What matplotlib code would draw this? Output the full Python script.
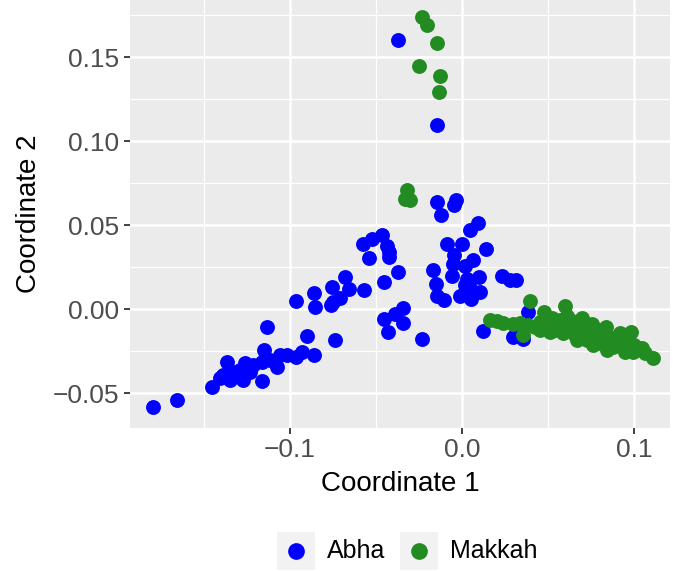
import matplotlib
matplotlib.use('Agg')
import matplotlib.pyplot as plt
from matplotlib.patches import Rectangle
from matplotlib.lines import Line2D

plt.rcParams['font.family'] = ['Liberation Sans', 'DejaVu Sans']

# groupes
labels = ['Abha', 'Makkah']
colors = ['blue', 'forestgreen']

# Abha (coordonnees)
abha_x = [-0.0370, -0.0143, -0.0147, -0.0122, -0.0035, -0.0046, 0.0095, 0.0049, -0.0085, -0.0002,
          0.0141, -0.0049, 0.0066, -0.0052, 0.0017, -0.0171, -0.0060, 0.0099, 0.0027, -0.0151,
          0.0017, 0.0046, 0.0107, -0.0143, -0.0102, -0.0012, 0.0053, 0.0230, 0.0279, 0.0313,
          0.0385, 0.0120, 0.0298, 0.0352, 0.0337, -0.0464, -0.0524, -0.0573, -0.0434, -0.0425,
          -0.0422, -0.0540, -0.0370, -0.0454, -0.0679, -0.0756, -0.0654, -0.0571, -0.0857, -0.0963,
          -0.0708, -0.0747, -0.0762, -0.0853, -0.0344, -0.0389, -0.0453, -0.0342, -0.0431, -0.0234,
          -0.0900, -0.0737, -0.1133, -0.1149, -0.1056, -0.1014, -0.0961, -0.0929, -0.0859, -0.1366,
          -0.1259, -0.1211, -0.1075, -0.1288, -0.1230, -0.1163, -0.1385, -0.1347, -0.1269, -0.1163,
          -0.1405, -0.1453, -0.1656, -0.1792, -0.1329, -0.1114]
abha_y = [0.1603, 0.1097, 0.0636, 0.0560, 0.0651, 0.0621, 0.0512, 0.0469, 0.0386, 0.0388,
          0.0361, 0.0323, 0.0296, 0.0270, 0.0256, 0.0232, 0.0198, 0.0194, 0.0180, 0.0151,
          0.0145, 0.0125, 0.0100, 0.0076, 0.0055, 0.0076, 0.0061, 0.0196, 0.0174, 0.0174,
          -0.0014, -0.0129, -0.0163, -0.0179, -0.0093, 0.0442, 0.0418, 0.0387, 0.0379, 0.0341,
          0.0313, 0.0308, 0.0224, 0.0164, 0.0194, 0.0130, 0.0120, 0.0117, 0.0097, 0.0049,
          0.0067, 0.0042, 0.0026, 0.0015, 0.0006, -0.0027, -0.0057, -0.0083, -0.0137, -0.0179,
          -0.0159, -0.0183, -0.0105, -0.0242, -0.0272, -0.0272, -0.0282, -0.0252, -0.0272, -0.0312,
          -0.0321, -0.0332, -0.0342, -0.0361, -0.0371, -0.0312, -0.0391, -0.0421, -0.0421, -0.0427,
          -0.0411, -0.0461, -0.0540, -0.0580, -0.0373, -0.0302]

# Makkah
makkah_x = [-0.0234, -0.0201, -0.0147, -0.0248, -0.0128, -0.0132, -0.0321, -0.0331, -0.0302,
            0.0395, 0.0163, 0.0238, 0.0298, 0.0356, 0.0424, 0.0476, 0.0511, 0.0598, 0.0609,
            0.0584, 0.0685, 0.0756, 0.0837, 0.0859, 0.0724, 0.0801, 0.0878, 0.0978, 0.0956,
            0.0992, 0.1062, 0.1109, 0.0666, 0.0762, 0.0840, 0.0946, 0.0492, 0.0546, 0.0453,
            0.0337, 0.0203, 0.0627, 0.0656, 0.0714, 0.0789, 0.0905, 0.0917, 0.0569, 0.0522,
            0.0453, 0.0383, 0.0696, 0.0801, 0.1044, 0.0871,
            0.0550, 0.0640, 0.0740, 0.0820, 0.0880, 0.0950, 0.1000, 0.0600, 0.0700, 0.0770]
makkah_y = [0.1738, 0.1692, 0.1583, 0.1448, 0.1389, 0.1295, 0.0710, 0.0657, 0.0651,
            0.0048, -0.0064, -0.0079, -0.0090, -0.0153, -0.0108, -0.0019, -0.0135, 0.0017, -0.0043,
            -0.0143, -0.0093, -0.0090, -0.0107, -0.0163, -0.0183, -0.0202, -0.0223, -0.0136, -0.0223,
            -0.0254, -0.0260, -0.0292, -0.0183, -0.0213, -0.0242, -0.0252, -0.0104, -0.0123, -0.0076,
            -0.0082, -0.0070, -0.0111, -0.0153, -0.0135, -0.0159, -0.0183, -0.0141, -0.0064, -0.0052,
            -0.0123, -0.0093, -0.0052, -0.0123, -0.0230, -0.0201,
            -0.0085, -0.0070, -0.0120, -0.0140, -0.0170, -0.0190, -0.0215, -0.0120, -0.0160, -0.0180]

x_ticks = [-0.1, 0.0, 0.1]
x_tick_labels = ['\u22120.1', '0.0', '0.1']
y_ticks = [-0.05, 0.0, 0.05, 0.10, 0.15]
y_tick_labels = ['\u22120.05', '0.00', '0.05', '0.10', '0.15']

W, H = 673, 571
fig = plt.figure(figsize=(W / 100, H / 100), dpi=100)
ax = fig.add_axes([130 / W, 143 / H, 540 / W, 428 / H])
ax.set_facecolor('#EBEBEB')

ax.scatter(abha_x, abha_y, s=115, color=colors[0], linewidths=0, zorder=3)
ax.scatter(makkah_x, makkah_y, s=115, color=colors[1], linewidths=0, zorder=3)

ax.set_xlim(-0.1927, 0.1207)
ax.set_ylim(-0.0707, 0.1841)

ax.set_xticks(x_ticks)
ax.set_xticklabels(x_tick_labels)
ax.set_yticks(y_ticks)
ax.set_yticklabels(y_tick_labels)
ax.set_xticks([-0.15, -0.05, 0.05], minor=True)
ax.set_yticks([-0.025, 0.025, 0.075, 0.125, 0.175], minor=True)

ax.grid(which='major', color='white', linewidth=1.8, zorder=0)
ax.grid(which='minor', color='white', linewidth=0.9, zorder=0)
ax.set_axisbelow(True)
for sp in ax.spines.values():
    sp.set_visible(False)

ax.tick_params(which='major', length=4.5, width=1.3, color='#333333',
               labelsize=19, labelcolor='#4D4D4D', pad=3)
ax.tick_params(which='minor', length=0)

ax.set_xlabel('Coordinate 1', fontsize=20, color='black', labelpad=6)
ax.set_ylabel('Coordinate 2', fontsize=20, color='black', labelpad=8)

# legende faite a la main (style ggplot)
key_left = [277, 400]
text_left = [327, 450]
for i in range(2):
    fig.add_artist(Rectangle((key_left[i] / W, 1 - 570 / H), 38 / W, 38 / H,
                             transform=fig.transFigure, facecolor='#F2F2F2', edgecolor='none'))
    fig.add_artist(Line2D([(key_left[i] + 19) / W], [1 - 551 / H], marker='o', markersize=11,
                          color=colors[i], linestyle='none', transform=fig.transFigure))
    fig.text(text_left[i] / W, 1 - 551 / H, labels[i], fontsize=18, va='center', ha='left')

fig.savefig('out.png', dpi=100)
